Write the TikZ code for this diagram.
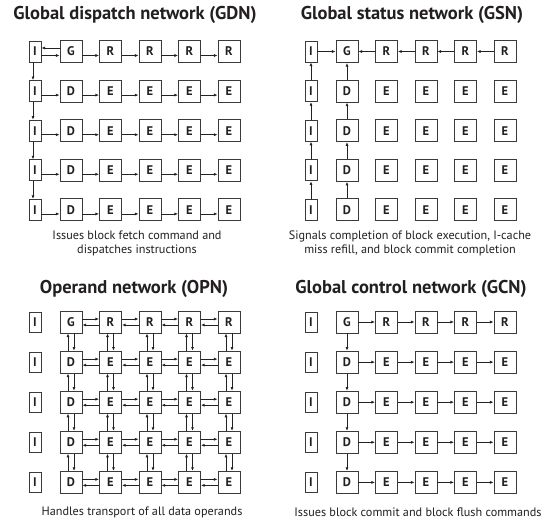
\documentclass[tikz,border=0pt]{standalone}
\usepackage{fontspec}
\setmainfont{PT Sans}
\usetikzlibrary{arrows.meta}
\definecolor{txtc}{HTML}{231F20}
\definecolor{boxc}{HTML}{3A3A3A}
\definecolor{linec}{HTML}{222222}
\begin{document}
\begin{tikzpicture}[x=1pt,y=-1pt,
  box/.style={draw=boxc, line width=0.9pt, minimum width=22pt, minimum height=22pt, inner sep=0pt, font=\bfseries\fontsize{12.5}{12.5}\selectfont, text=txtc},
  ibox/.style={box, minimum width=12pt},
  conn/.style={draw=linec, line width=0.75pt, -{Latex[length=3.6pt,width=3pt]}},
  ttl/.style={font=\bfseries\fontsize{18.5}{18.5}\selectfont, text=txtc},
  captxt/.style={font=\fontsize{12.2}{14}\selectfont, text=txtc, align=center}]
\useasboundingbox (0,0) rectangle (552,522);
\fill[white] (0,0) rectangle (552,522);
% nodes
\foreach \p/\ox/\oy/\dy/\ih in {A/0/51.5/39.6/21, B/276/51.5/39.6/21, C/0/322/40.1/20, D/276/322/40.1/20} {
  \foreach \r in {1,...,5} {
    \node[ibox, minimum height=\ih pt] (\p-\r-0) at (\ox+35, \oy+\dy*\r-\dy) {I};
    \foreach \c in {1,...,5} {
      \node[box] (\p-\r-\c) at (\ox+71+39.5*\c-39.5, \oy+\dy*\r-\dy)
        {\ifnum\r=1 \ifnum\c=1 G\else R\fi\else\ifnum\c=1 D\else E\fi\fi};
    }
  }
}
% titles and captions
\node[ttl] (tA) at (135,15) {Global dispatch network (GDN)};
\node[ttl] (tB) at (412,15) {Global status network (GSN)};
\node[ttl] (tC) at (134,289) {Operand network (OPN)};
\node[ttl] (tD) at (411,289) {Global control network (GCN)};
\node[captxt] (cA) at (137,243) {Issues block fetch command and\\dispatches instructions};
\node[captxt] (cB) at (410,243) {Signals completion of block execution, I-cache\\miss refill, and block commit completion};
\node[captxt] (cC) at (142,512) {Handles transport of all data operands};
\node[captxt] (cD) at (418,512) {Issues block commit and block flush commands};
% GDN
\draw[conn] ([yshift=3.5pt]A-1-1.west) -- ([yshift=3.5pt]A-1-0.east);
\foreach \r in {1,...,5} {
  \draw[conn] ([yshift=-4pt]A-\r-0.east) -- ([yshift=-4pt]A-\r-1.west);
  \foreach \c [evaluate=\c as \n using int(\c+1)] in {1,...,4} {
    \draw[conn] ([yshift=-4pt]A-\r-\c.east) -- ([yshift=-4pt]A-\r-\n.west);
  }
}
\foreach \r [evaluate=\r as \n using int(\r+1)] in {1,...,4} {
  \draw[conn] ([xshift=-2pt]A-\r-0.south) -- ([xshift=-2pt]A-\n-0.north);
}
% GSN
\draw[conn] (B-1-0.east) -- (B-1-1.west);
\foreach \c [evaluate=\c as \n using int(\c+1)] in {1,...,4} {
  \draw[conn] (B-1-\n.west) -- (B-1-\c.east);
}
\foreach \r [evaluate=\r as \n using int(\r+1)] in {1,...,4} {
  \draw[conn] (B-\n-0.north) -- (B-\r-0.south);
  \draw[conn] (B-\n-1.north) -- (B-\r-1.south);
}
% OPN
\foreach \r in {1,...,5} {
  \foreach \c [evaluate=\c as \n using int(\c+1)] in {1,...,4} {
    \draw[conn] ([yshift=3pt]C-\r-\c.east) -- ([yshift=3pt]C-\r-\n.west);
    \draw[conn] ([yshift=-3pt]C-\r-\n.west) -- ([yshift=-3pt]C-\r-\c.east);
  }
}
\foreach \r [evaluate=\r as \n using int(\r+1)] in {1,...,4} {
  \foreach \c in {1,...,5} {
    \draw[conn] ([xshift=-3pt]C-\n-\c.north) -- ([xshift=-3pt]C-\r-\c.south);
    \draw[conn] ([xshift=3pt]C-\r-\c.south) -- ([xshift=3pt]C-\n-\c.north);
  }
}
% GCN
\foreach \r in {1,...,5} {
  \foreach \c [evaluate=\c as \n using int(\c+1)] in {1,...,4} {
    \draw[conn] (D-\r-\c.east) -- (D-\r-\n.west);
  }
}
\foreach \r [evaluate=\r as \n using int(\r+1)] in {1,...,4} {
  \draw[conn] (D-\r-1.south) -- (D-\n-1.north);
}
\end{tikzpicture}
\end{document}
